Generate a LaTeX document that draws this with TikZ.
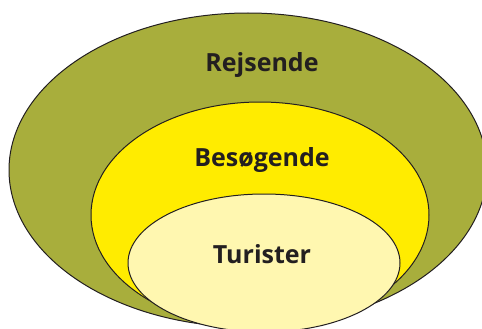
\documentclass[tikz,border=0pt]{standalone}
\usepackage{fontspec}
\setmainfont{Open Sans}
\definecolor{olive}{HTML}{A8AE3C}
\definecolor{ylw}{HTML}{FFEC00}
\definecolor{lyl}{HTML}{FFF7B0}
\definecolor{ink}{HTML}{231F20}
\begin{document}
\begin{tikzpicture}[x=1pt,y=-1pt,
  ring/.style={draw=ink,line width=1pt},
  lbl/.style={text=ink,font=\fontsize{25}{28}\selectfont\bfseries,inner sep=0pt}]
\useasboundingbox (0,0) rectangle (482,329);
\clip (0,0) rectangle (482,329);
\fill[white] (0,0) rectangle (482,329);
\path[ring,fill=olive] (248,170) ellipse [x radius=239, y radius=157];
\path[ring,fill=ylw] (260,215) ellipse [x radius=169, y radius=113];
\path[ring,fill=lyl] (264,263) ellipse [x radius=136, y radius=69];
\node[lbl] (r) at (262,65) {Rejsende};
\node[lbl] (b) at (262,160) {Besøgende};
\node[lbl] (t) at (262,254) {Turister};
\end{tikzpicture}
\end{document}
